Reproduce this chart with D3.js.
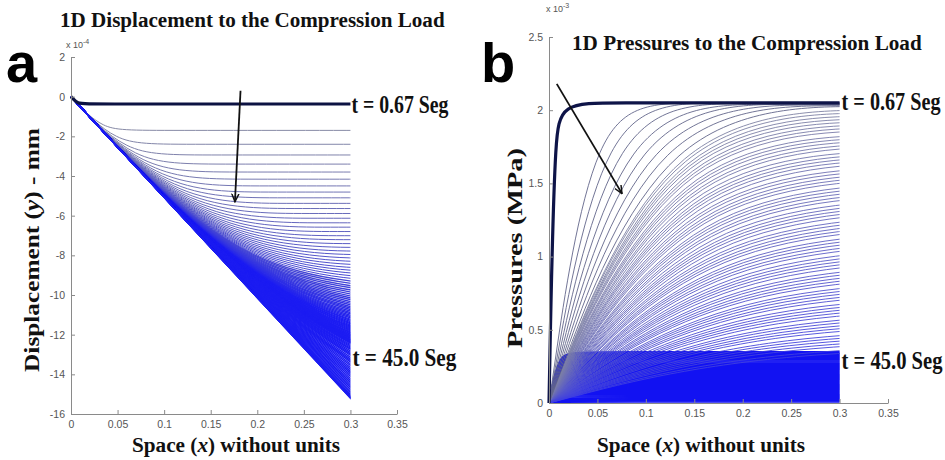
<!DOCTYPE html>
<html><head><meta charset="utf-8">
<script src="https://cdn.jsdelivr.net/npm/d3@7"></script>
<style>body{margin:0;background:#fff} svg{display:block}</style>
</head><body><svg id="c" width="945" height="460"></svg>
<script>
// ---------- data ----------
const xTicks = [0, 0.05, 0.1, 0.15, 0.2, 0.25, 0.3, 0.35];
const xTickLabels = ["0", "0.05", "0.1", "0.15", "0.2", "0.25", "0.3", "0.35"];
const dispTicks = [2, 0, -2, -4, -6, -8, -10, -12, -14, -16];
const dispTickLabels = ["2", "0", "-2", "-4", "-6", "-8", "-10", "-12", "-14", "-16"];
const pressTicks = [0, 0.5, 1, 1.5, 2, 2.5];
const pressTickLabels = ["0", "0.5", "1", "1.5", "2", "2.5"];

// panel a : displacement (x10^-4 mm); t = 0.67 s curve, then later curves (plateau levels)
const dispFirstLevel = -0.37;
const dispEnvelopeAt03 = -15.2;      // lower straight edge reaches -15.2 at x = 0.3
const dispLevels = [-1.70,-2.40,-2.94,-3.40,-3.80,-4.16,-4.50,-4.81,-5.10,-5.38,-5.64,-5.89,-6.13,-6.36,-6.58,-6.80,-7.01,-7.21,-7.41,-7.60,-7.79,-7.97,-8.15,-8.33,-8.50,-8.67,-8.83,-8.99,-9.15,-9.31,-9.47,-9.62,-9.77,-9.91,-10.06,-10.20,-10.34,-10.48,-10.62,-10.75,-10.89,-11.02,-11.15,-11.28,-11.40,-11.53,-11.66,-11.78,-11.90,-12.02,-12.14,-12.26,-12.38,-12.49,-12.61,-12.72,-12.84,-12.95,-13.06,-13.17,-13.28,-13.39,-13.49,-13.60,-13.71,-13.81,-13.92,-14.02,-14.12,-14.22,-14.32,-14.42,-14.52,-14.62,-14.72,-14.82,-14.92,-15.01,-15.11,-15.20,-15.4,-15.6,-15.8,-16.0,-16.2,-16.5,-16.8,-17.1,-17.4,-17.8,-18.2,-18.6,-19.0,-19.5,-20.0,-20.6,-21.2,-21.9,-22.6,-23.4,-24.3,-25.3,-26.4,-27.6,-29.0,-30.6,-32.5,-34.7,-37.3,-40.5,-44.5,-49.5,-56,-65,-78,-100];

// panel b : pressures (x10^-3 MPa); level and corner position of each curve
const pressFirstLevel = 2.05, pressFirstCorner = 0.006;
const pressEarlyLevels = [2.05, 2.05, 2.045, 2.04, 2.04, 2.035, 2.03, 2.025];
const pressEarlyCorners = [0.045, 0.055, 0.065, 0.075, 0.085, 0.095, 0.105, 0.115];
const pressMidLevels = [2.00,1.98,1.96,1.94,1.92,1.90,1.88,1.86,1.83,1.81,1.79,1.77,1.75,1.72,1.70,1.68,1.66,1.64,1.61,1.59,1.57,1.55,1.53,1.50,1.48,1.46,1.44,1.42,1.39,1.37,1.35,1.33,1.31,1.28,1.26,1.24,1.22,1.20,1.17,1.15,1.13,1.11,1.09,1.06,1.04,1.02,1.00,0.98,0.95,0.93,0.91,0.89,0.87,0.84,0.82,0.80,0.78,0.76,0.73,0.71,0.69,0.67,0.65,0.62,0.60,0.58,0.56,0.54,0.51,0.49,0.47,0.45,0.43,0.40,0.38];
const pressMidCorners = [0.120,0.121,0.123,0.124,0.125,0.127,0.128,0.129,0.131,0.132,0.133,0.135,0.136,0.137,0.139,0.140,0.141,0.143,0.144,0.145,0.147,0.148,0.149,0.151,0.152,0.153,0.155,0.156,0.157,0.159,0.160,0.161,0.163,0.164,0.165,0.167,0.168,0.169,0.171,0.172,0.173,0.175,0.176,0.177,0.179,0.180,0.181,0.183,0.184,0.185,0.187,0.188,0.189,0.191,0.192,0.193,0.195,0.196,0.197,0.199,0.200,0.201,0.203,0.204,0.205,0.207,0.208,0.209,0.211,0.212,0.213,0.215,0.216,0.217,0.219];
const pressLateLevels = [0.350,0.343,0.336,0.329,0.322,0.315,0.308,0.301,0.294,0.287,0.280,0.273,0.266,0.259,0.252,0.245,0.238,0.231,0.224,0.217,0.210,0.203,0.196,0.189,0.182,0.175,0.168,0.161,0.154,0.147,0.140,0.133,0.126,0.119,0.112,0.105,0.098,0.091,0.084,0.077,0.070,0.063,0.056,0.049,0.042,0.035,0.028,0.021,0.014,0.007];
const pressLateCorner = 0.01;

const arrowA = [[0.182, 0.3], [0.176, -5.3]];
const arrowB = [[0.008, 2.18], [0.0754, 1.43]];

// ---------- drawing ----------
const svg = d3.select("#c");
const serif = "'Liberation Serif','Times New Roman',serif";
const narrow = "'Liberation Sans Narrow','Arial Narrow','Liberation Sans',sans-serif";

const defs = svg.append("defs");
defs.append("marker").attr("id", "ah").attr("viewBox", "0 -5 10 10")
  .attr("refX", 9).attr("refY", 0).attr("markerWidth", 9).attr("markerHeight", 9)
  .attr("markerUnits", "userSpaceOnUse").attr("orient", "auto")
  .append("path").attr("d", "M0,-4L9,0L0,4").attr("fill", "none")
  .attr("stroke", "#111").attr("stroke-width", 1.6);

function panel(opt) {
  const xs = d3.scaleLinear().domain([0, 0.35]).range(opt.xr);
  const ys = d3.scaleLinear().domain(opt.yd).range(opt.yr);
  const g = svg.append("g");
  const clipId = "clip" + opt.id;
  defs.append("clipPath").attr("id", clipId).append("rect")
    .attr("x", xs(0) - 3).attr("y", 0).attr("width", xs(0.3) - xs(0) + 3).attr("height", 460);
  const curves = g.append("g").attr("clip-path", `url(#${clipId})`);
  const line = d3.line().x(d => xs(d[0])).y(d => ys(d[1])).curve(d3.curveBasis);
  const ax = d3.axisBottom(xs).tickValues(xTicks).tickFormat((d, i) => xTickLabels[i])
    .tickSizeInner(-4).tickSizeOuter(0).tickPadding(7);
  const ay = d3.axisLeft(ys).tickValues(opt.ticks).tickFormat((d, i) => opt.tickLabels[i])
    .tickSizeInner(-4).tickSizeOuter(0).tickPadding(6);
  const gx = g.append("g").attr("transform", `translate(0,${opt.yr[0]})`).call(ax);
  const gy = g.append("g").attr("transform", `translate(${opt.xr[0]},0)`).call(ay);
  [gx, gy].forEach(a => {
    a.selectAll("path,line").attr("stroke", "#8a8a8a").attr("stroke-width", 1);
    a.selectAll("text").attr("fill", "#555").attr("font-family", narrow).attr("font-size", 10.5);
  });
  return { xs, ys, g, curves, line };
}
// curve through the corner where the initial slope meets the level
const softPts = (level, corner) => [[0, 0], [corner, level], [3 * corner, level], [Math.max(3 * corner, 0.3) + 0.1, level]];
const midPts = (level, corner) => [[0, 0], [corner, level], [2.2 * corner, level], [Math.max(2.2 * corner, 0.3) + 0.1, level]];

// ---- panel a ----
const A = panel({ id: "a", xr: [71, 397], yd: [-16, 2], yr: [414, 57], ticks: dispTicks, tickLabels: dispTickLabels });
{
  const slope = dispEnvelopeAt03 / 0.3;
  const col = d3.interpolateRgb("#878aa6", "#1c1cf2");
  dispLevels.forEach((lv, i) => {
    const f = Math.min(1, i / 55);
    A.curves.append("path").attr("d", A.line(midPts(lv, lv / slope)))
      .attr("fill", "none").attr("stroke", col(Math.pow(f, 0.8)))
      .attr("stroke-width", i < 30 ? 1 : 1.4);
  });
  A.curves.append("path").attr("d", A.line(midPts(dispFirstLevel, dispFirstLevel / slope)))
    .attr("fill", "none").attr("stroke", "#0c1242").attr("stroke-width", 3.2);
  A.g.append("line").attr("x1", A.xs(arrowA[0][0])).attr("y1", A.ys(arrowA[0][1]))
    .attr("x2", A.xs(arrowA[1][0])).attr("y2", A.ys(arrowA[1][1]))
    .attr("stroke", "#111").attr("stroke-width", 1.8).attr("marker-end", "url(#ah)");
}

// ---- panel b ----
const B = panel({ id: "b", xr: [549, 888], yd: [0, 2.5], yr: [403, 37], ticks: pressTicks, tickLabels: pressTickLabels });
{
  const colMid = d3.scaleLinear().domain([2.0, 0.38]).range(["#7f82a4", "#4040e0"]).interpolate(d3.interpolateRgb);
  pressLateLevels.forEach(lv => {
    B.curves.append("path").attr("d", B.line(softPts(lv, pressLateCorner)))
      .attr("fill", "none").attr("stroke", "#1212f2").attr("stroke-width", 1.7);
  });
  pressMidLevels.forEach((lv, i) => {
    B.curves.append("path").attr("d", B.line(softPts(lv, pressMidCorners[i])))
      .attr("fill", "none").attr("stroke", colMid(lv)).attr("stroke-width", 0.9);
  });
  pressEarlyLevels.forEach((lv, i) => {
    B.curves.append("path").attr("d", B.line(softPts(lv, pressEarlyCorners[i])))
      .attr("fill", "none").attr("stroke", "#62658a").attr("stroke-width", 0.9);
  });
  B.curves.append("path").attr("d", B.line(softPts(pressFirstLevel, pressFirstCorner)))
    .attr("fill", "none").attr("stroke", "#0e1448").attr("stroke-width", 3.2);
  B.g.append("line").attr("x1", B.xs(arrowB[0][0])).attr("y1", B.ys(arrowB[0][1]))
    .attr("x2", B.xs(arrowB[1][0])).attr("y2", B.ys(arrowB[1][1]))
    .attr("stroke", "#111").attr("stroke-width", 1.8).attr("marker-end", "url(#ah)");
}

// ---------- texts ----------
function txt(x, y, s, size, opts = {}) {
  const g = svg.append("g").attr("transform", `translate(${x},${y})` + (opts.rotate ? " rotate(-90)" : ""));
  const t = g.append("text").attr("x", 0).attr("y", 0)
    .attr("font-family", opts.family || serif).attr("font-size", size)
    .attr("font-weight", opts.weight || "bold").attr("fill", opts.fill || "#111")
    .attr("text-anchor", opts.anchor || "start");
  const m = s.match(/^(.*\()(x|y)(\).*)$/);
  if (m) {
    t.append("tspan").text(m[1]);
    t.append("tspan").attr("font-style", "italic").text(m[2]);
    t.append("tspan").text(m[3]);
  } else t.text(s);
  if (opts.len) {
    const w = t.node().getComputedTextLength();
    if (w > 0) t.attr("transform", `scale(${opts.len / w},1)`);
  }
  return t;
}
txt(60, 27, "1D Displacement to the Compression Load", 20, { len: 385 });
txt(572, 50, "1D  Pressures to the Compression Load", 20, { len: 350 });
txt(6, 82, "a", 56, { family: "'Liberation Sans',Arial,sans-serif", fill: "#000" });
txt(481, 82, "b", 56, { family: "'Liberation Sans',Arial,sans-serif", fill: "#000" });

txt(A.xs(0.3) + 1, A.ys(dispFirstLevel) + 9, "t = 0.67 Seg", 26, { len: 97 });
txt(A.xs(0.3) + 2, A.ys(dispEnvelopeAt03) - 32, "t = 45.0 Seg", 26, { len: 104 });
txt(B.xs(0.3) + 2, B.ys(pressFirstLevel) + 7, "t = 0.67 Seg", 26, { len: 99 });
txt(B.xs(0.3) + 2, B.ys(pressLateLevels[0]) + 17, "t = 45.0 Seg", 26, { len: 101 });

txt(236, 452, "Space (x) without units", 20, { anchor: "middle", len: 208 });
txt(701, 452, "Space (x) without units", 20, { anchor: "middle", len: 208 });
txt(39, 250, "Displacement (y) - mm", 20, { anchor: "middle", rotate: true, len: 244 });
txt(522, 248, "Pressures (MPa)", 20, { anchor: "middle", rotate: true, len: 200 });

function expLabel(x, y, e) {
  const t = svg.append("text").attr("x", x).attr("y", y).attr("font-family", narrow)
    .attr("font-size", 9).attr("fill", "#555");
  t.append("tspan").text("x 10");
  t.append("tspan").attr("dy", -4).attr("font-size", 7).text(e);
}
expLabel(66, 48, "-4");
expLabel(546, 12, "-3");
</script></body></html>
